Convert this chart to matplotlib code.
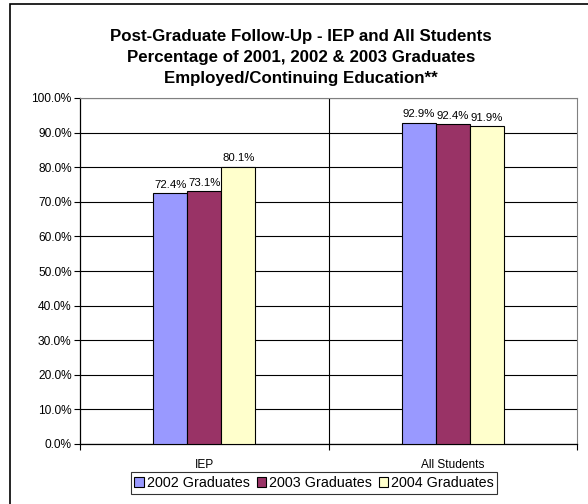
import matplotlib
matplotlib.use("Agg")
import matplotlib.pyplot as plt
from matplotlib.patches import Rectangle
import numpy as np

plt.rcParams['font.family'] = ['Liberation Sans', 'DejaVu Sans']

categories = ["IEP", "All Students"]
series_names = ["2002 Graduates", "2003 Graduates", "2004 Graduates"]
values = {
    "2002 Graduates": [72.4, 92.9],
    "2003 Graduates": [73.1, 92.4],
    "2004 Graduates": [80.1, 91.9],
}
colors = ["#9999FF", "#993366", "#FFFFCC"]
yticks = [0, 10, 20, 30, 40, 50, 60, 70, 80, 90, 100]
title = ("Post-Graduate Follow-Up - IEP and All Students\n"
         "Percentage of 2001, 2002 & 2003 Graduates\n"
         "Employed/Continuing Education**")

W, H = 588, 504
fig = plt.figure(figsize=(W/100, H/100), dpi=100)
fig.patch.set_facecolor("white")

# outer chart frame
fig.patches.append(Rectangle((10/W, -0.05), 1.0, (H-4)/H + 0.05, transform=fig.transFigure,
                             fill=False, edgecolor="black", linewidth=1.2))

left, right, top, bottom = 80, 577, 98, 444
ax = fig.add_axes([left/W, 1-bottom/H, (right-left)/W, (bottom-top)/H])

x = np.arange(len(categories))
bw = 0.137
for i, (name, c) in enumerate(zip(series_names, colors)):
    vals = values[name]
    bars = ax.bar(x + (i-1)*bw, vals, width=bw, color=c, edgecolor="black",
                  linewidth=0.8, label=name, zorder=3)
    for b, v in zip(bars, vals):
        ax.text(b.get_x()+b.get_width()/2, v+1.0, f"{v:.1f}%", ha="center",
                va="bottom", fontsize=8.2, zorder=4)

ax.set_xlim(-0.5, 1.5)
ax.set_ylim(0, 100)
ax.set_yticks(yticks)
ax.set_yticklabels([f"{t:.1f}%" for t in yticks], fontsize=8.6)
ax.yaxis.grid(True, color="black", linewidth=0.8, zorder=0)
ax.axvline(0.5, color="black", linewidth=0.8, zorder=0)
ax.set_xticks(x)
ax.set_xticklabels(categories, fontsize=8.6)
ax.set_xticks([-0.5, 0.5, 1.5], minor=True)
ax.tick_params(axis="x", which="major", length=0, pad=11)
ax.tick_params(axis="x", which="minor", length=4, direction="out", width=0.8)
ax.tick_params(axis="y", length=4, direction="out", width=0.8, pad=2)
for s in ["top", "right"]:
    ax.spines[s].set_color("#808080")
for s in ["left", "bottom"]:
    ax.spines[s].set_color("black")
    ax.spines[s].set_linewidth(0.9)

fig.text(301/W, 1-29/H, title, ha="center", va="top", fontsize=12.2,
         fontweight="bold", linespacing=1.5)

leg = fig.legend(loc="center", bbox_to_anchor=(314/W, 1-483/H), ncol=3,
                 fontsize=10.3, frameon=True, fancybox=False, edgecolor="black",
                 handlelength=0.65, handleheight=0.65, handletextpad=0.2,
                 columnspacing=0.5, borderpad=0.25, borderaxespad=0)
leg.get_frame().set_linewidth(0.8)

fig.savefig("out.png", dpi=100)
